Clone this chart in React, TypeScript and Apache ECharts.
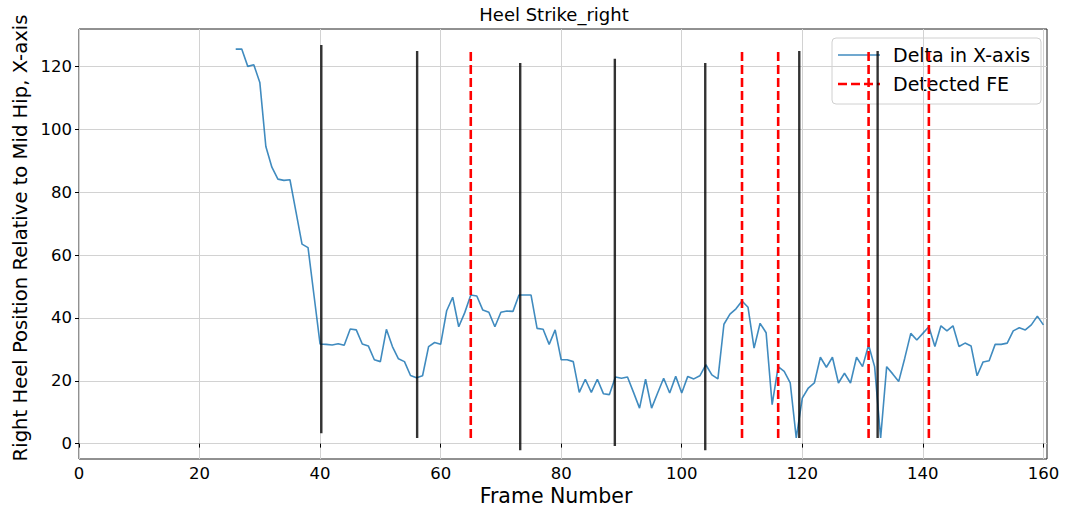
import React, { useEffect, useRef } from "react";
import * as echarts from "echarts";

// Right heel x-offset from mid hip, one value per frame starting at frame 26
const frameStart = 26;
const deltaX = [
  125.6, 125.6, 120.1, 120.6, 115.0, 94.6, 88.0, 84.2, 83.8, 84.0,
  73.8, 63.5, 62.4, 47.0, 31.7, 31.6, 31.4, 31.8, 31.3, 36.5,
  36.2, 31.7, 31.1, 26.7, 26.1, 36.4, 30.9, 27.0, 26.1, 21.7,
  21.0, 21.6, 30.9, 32.2, 31.6, 42.3, 46.6, 37.2, 41.7, 47.3,
  47.0, 42.5, 41.8, 37.2, 41.8, 42.2, 42.1, 47.3, 47.3, 47.3,
  36.7, 36.4, 31.6, 36.2, 26.7, 26.7, 26.1, 16.3, 20.5, 16.3,
  20.5, 15.9, 15.6, 21.2, 20.8, 21.2, 16.3, 11.3, 20.5, 11.3,
  16.1, 20.8, 16.1, 21.4, 16.1, 21.4, 20.6, 21.6, 25.1, 21.9,
  20.6, 38.0, 41.2, 42.9, 45.4, 43.4, 30.4, 38.3, 35.3, 12.4,
  24.5, 23.0, 19.3, 1.8, 14.5, 17.7, 19.3, 27.5, 24.3, 27.5,
  19.3, 22.4, 19.3, 27.5, 24.5, 31.4, 24.5, 1.8, 24.5, 22.2,
  19.8, 27.2, 35.1, 33.0, 35.1, 37.2, 30.9, 37.5, 35.9, 37.5,
  30.9, 32.0, 31.1, 21.6, 26.0, 26.4, 31.6, 31.6, 32.0, 35.9,
  36.9, 36.2, 37.8, 40.6, 37.8,
];

// Ground-truth heel strikes (black) with their drawn extents
const strikeFrames = [40.2, 56.1, 73.2, 88.9, 103.9, 119.5, 132.5];
const strikeLow = [3.3, 1.8, -2.1, -0.8, -2.1, 1.8, 1.8];
const strikeHigh = [126.9, 125.0, 121.2, 122.5, 121.2, 125.0, 125.0];

// Detected foot events (red dashed)
const detectedFE = [65, 110, 116, 131, 141];

const xTicks = [0, 20, 40, 60, 80, 100, 120, 140, 160];
const yTicks = [0, 20, 40, 60, 80, 100, 120];

const FONT = "DejaVu Sans";

export default function App() {
  const ref = useRef<HTMLDivElement>(null);

  useEffect(() => {
    document.body.style.margin = "0";
    if (!ref.current) return;
    const chart = echarts.init(ref.current, undefined, { renderer: "svg" });

    const dMin = Math.min(...deltaX);
    const dMax = Math.max(...deltaX);

    const series: any[] = [
      {
        name: "Delta in X-axis",
        type: "line",
        data: deltaX.map((v, i) => [frameStart + i, v]),
        showSymbol: false,
        lineStyle: { color: "#1f77b4", width: 1.6, opacity: 0.85 },
        z: 2,
      },
    ];
    strikeFrames.forEach((f, i) => {
      series.push({
        type: "line",
        data: [
          [f, strikeLow[i]],
          [f, strikeHigh[i]],
        ],
        showSymbol: false,
        lineStyle: { color: "#000", width: 2.4, opacity: 0.8 },
        z: 3,
      });
    });
    detectedFE.forEach((f) => {
      series.push({
        name: "Detected FE",
        type: "line",
        data: [
          [f, dMin],
          [f, dMax],
        ],
        showSymbol: false,
        lineStyle: { color: "#ff0000", width: 2.6, type: [9, 4] },
        z: 4,
      });
    });

    const legendX = 832;
    const legendY = 38;

    chart.setOption({
      animation: false,
      grid: {
        left: 79,
        right: 21,
        top: 29,
        bottom: 51,
        show: true,
        borderColor: "#222",
        borderWidth: 1,
        backgroundColor: "transparent",
        containLabel: false,
        outerBoundsMode: "none",
      },
      xAxis: {
        type: "value",
        min: 0,
        max: 160.6,
        axisLine: { show: false },
        axisTick: { show: true, length: 4, customValues: xTicks, lineStyle: { color: "#000" } },
        axisLabel: { customValues: xTicks, fontFamily: FONT, fontSize: 16.5, color: "#000", margin: 6 },
        splitLine: { show: true, lineStyle: { color: "#d2d2d2", width: 1 } },
      },
      yAxis: {
        type: "value",
        min: -4.9,
        max: 132,
        axisLine: { show: false },
        axisTick: { show: true, length: 4, customValues: yTicks, lineStyle: { color: "#000" } },
        axisLabel: { customValues: yTicks, fontFamily: FONT, fontSize: 16.5, color: "#000", margin: 7 },
        splitLine: { show: true, lineStyle: { color: "#d2d2d2", width: 1 } },
      },
      series,
      graphic: [
        {
          type: "text",
          x: 554,
          y: 14,
          style: {
            text: "Heel Strike_right",
            fontFamily: FONT,
            fontSize: 18,
            fill: "#000",
            textAlign: "center",
            textVerticalAlign: "middle",
          },
          z: 10,
        },
        {
          type: "text",
          x: 556,
          y: 496,
          style: {
            text: "Frame Number",
            fontFamily: FONT,
            fontSize: 20.5,
            fill: "#000",
            textAlign: "center",
            textVerticalAlign: "middle",
          },
          z: 10,
        },
        {
          type: "text",
          x: 20,
          y: 238,
          rotation: Math.PI / 2,
          style: {
            text: "Right Heel Position Relative to Mid Hip, X-axis",
            fontFamily: FONT,
            fontSize: 19.6,
            fill: "#000",
            textAlign: "center",
            textVerticalAlign: "middle",
          },
          z: 10,
        },
        {
          type: "group",
          x: legendX,
          y: legendY,
          z: 20,
          children: [
            {
              type: "rect",
              shape: { x: 0, y: 0, width: 209, height: 66, r: 4 },
              style: { fill: "rgba(255,255,255,0.8)", stroke: "#d0d0d0", lineWidth: 1 },
            },
            {
              type: "line",
              shape: { x1: 6, y1: 17, x2: 48, y2: 17 },
              style: { stroke: "#1f77b4", lineWidth: 1.6, opacity: 0.85 },
            },
            {
              type: "line",
              shape: { x1: 6, y1: 46, x2: 48, y2: 46 },
              style: { stroke: "#ff0000", lineWidth: 2.6, lineDash: [9, 4] },
            },
            {
              type: "text",
              x: 61,
              y: 17,
              style: {
                text: "Delta in X-axis",
                fontFamily: FONT,
                fontSize: 19,
                fill: "#000",
                textVerticalAlign: "middle",
              },
            },
            {
              type: "text",
              x: 61,
              y: 46,
              style: {
                text: "Detected FE",
                fontFamily: FONT,
                fontSize: 19,
                fill: "#000",
                textVerticalAlign: "middle",
              },
            },
          ],
        },
      ],
    });

    return () => chart.dispose();
  }, []);

  return <div ref={ref} style={{ width: 1068, height: 510 }} />;
}
